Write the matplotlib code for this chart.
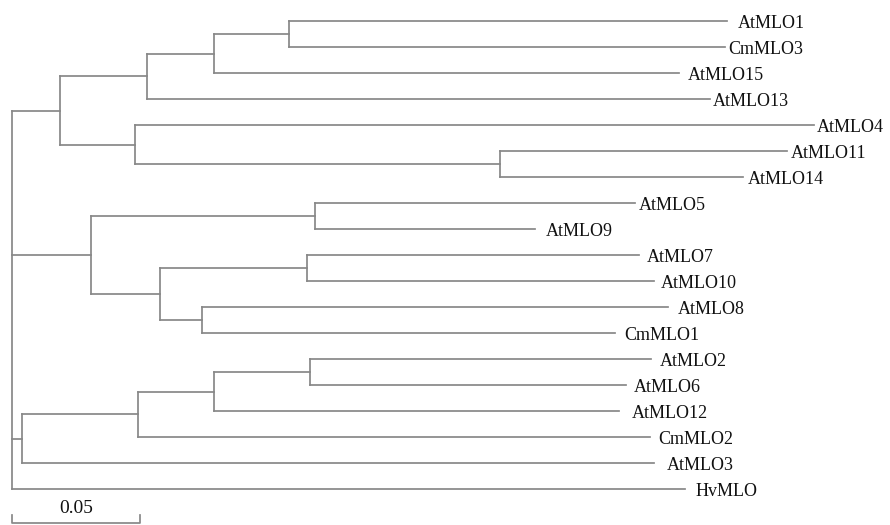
import matplotlib
matplotlib.use('Agg')
import matplotlib.pyplot as plt

# ---- tree data: node, parent, branch length (substitutions/site) ----
node_names = ['root', 'n1', 'n2', 'n3', 'n4', 'AtMLO1', 'CmMLO3', 'AtMLO15', 'AtMLO13',
              'n5', 'AtMLO4', 'n6', 'AtMLO11', 'AtMLO14',
              'n7', 'n8', 'AtMLO5', 'AtMLO9', 'n9', 'n10', 'AtMLO7', 'AtMLO10',
              'n11', 'AtMLO8', 'CmMLO1',
              'n12', 'n13', 'n14', 'n15', 'AtMLO2', 'AtMLO6', 'AtMLO12', 'CmMLO2', 'AtMLO3',
              'HvMLO']
parent_names = [None, 'root', 'n1', 'n2', 'n3', 'n4', 'n4', 'n3', 'n2',
                'n1', 'n5', 'n5', 'n6', 'n6',
                'root', 'n7', 'n8', 'n8', 'n7', 'n9', 'n10', 'n10',
                'n9', 'n11', 'n11',
                'root', 'n12', 'n13', 'n14', 'n15', 'n15', 'n14', 'n13', 'n12',
                'root']
branch_lengths = [0.0, 0.0189, 0.0338, 0.0264, 0.0291, 0.1711, 0.1705, 0.1815, 0.2200,
                  0.0292, 0.2650, 0.1426, 0.1120, 0.0950,
                  0.0309, 0.0876, 0.1249, 0.0858, 0.0270, 0.0575, 0.1296, 0.1354,
                  0.0163, 0.1819, 0.1612,
                  0.0038, 0.0455, 0.0297, 0.0375, 0.1331, 0.1233, 0.1580, 0.2000, 0.2471,
                  0.2629]
scale_length = 0.05
scale_label = '0.05'

# ---- layout ----
bl = dict(zip(node_names, branch_lengths))
children = {n: [] for n in node_names}
for n, p in zip(node_names, parent_names):
    if p is not None:
        children[p].append(n)

xs, ys, leaves = {}, {}, []

def walk(n, depth):
    xs[n] = depth
    if not children[n]:
        ys[n] = len(leaves)
        leaves.append(n)
    else:
        for c in children[n]:
            walk(c, depth + bl[c])
        ys[n] = (ys[children[n][0]] + ys[children[n][-1]]) / 2.0

walk('root', 0.0)

# label gaps (pixels) as in the reference
label_pad = {'AtMLO1': 11, 'CmMLO3': 3, 'AtMLO15': 9, 'AtMLO13': 3, 'AtMLO4': 3,
             'AtMLO11': 4, 'AtMLO14': 4, 'AtMLO5': 4, 'AtMLO9': 11, 'AtMLO7': 8,
             'AtMLO10': 7, 'AtMLO8': 10, 'CmMLO1': 10, 'AtMLO2': 9, 'AtMLO6': 8,
             'AtMLO12': 13, 'CmMLO2': 8, 'AtMLO3': 13, 'HvMLO': 10}

W, H = 890, 525
px_per_unit = 2560.0
x0_px = 12.0
y0_px, dy_px = 21.2, 26.0

fig = plt.figure(figsize=(W / 100, H / 100), dpi=100)
ax = fig.add_axes([0, 0, 1, 1])
ax.set_xlim(-x0_px / px_per_unit, (W - x0_px) / px_per_unit)
ax.set_ylim((H - y0_px) / dy_px, -y0_px / dy_px)
ax.axis('off')

lc = '#888888'
lw = 1.25
for n, p in zip(node_names, parent_names):
    if p is not None:
        ax.plot([xs[p], xs[n]], [ys[n], ys[n]], color=lc, lw=lw, solid_capstyle='projecting')
    if children[n]:
        ax.plot([xs[n], xs[n]], [ys[children[n][0]], ys[children[n][-1]]],
                color=lc, lw=lw, solid_capstyle='projecting')

for leaf in leaves:
    ax.annotate(leaf, xy=(xs[leaf], ys[leaf]), xytext=(label_pad[leaf], 0),
                textcoords='offset pixels', ha='left', va='center_baseline',
                fontsize=13, family='Liberation Serif', color='#111111')

# scale bar
yb = (523.0 - y0_px) / dy_px
yt = (515.5 - y0_px) / dy_px
ax.plot([0, 0, scale_length, scale_length], [yt, yb, yb, yt], color=lc, lw=lw)
ax.text(scale_length / 2, (508.5 - y0_px) / dy_px, scale_label, ha='center', va='center',
        fontsize=14, family='Liberation Serif', color='#111111')

fig.savefig('out.png', dpi=100)
